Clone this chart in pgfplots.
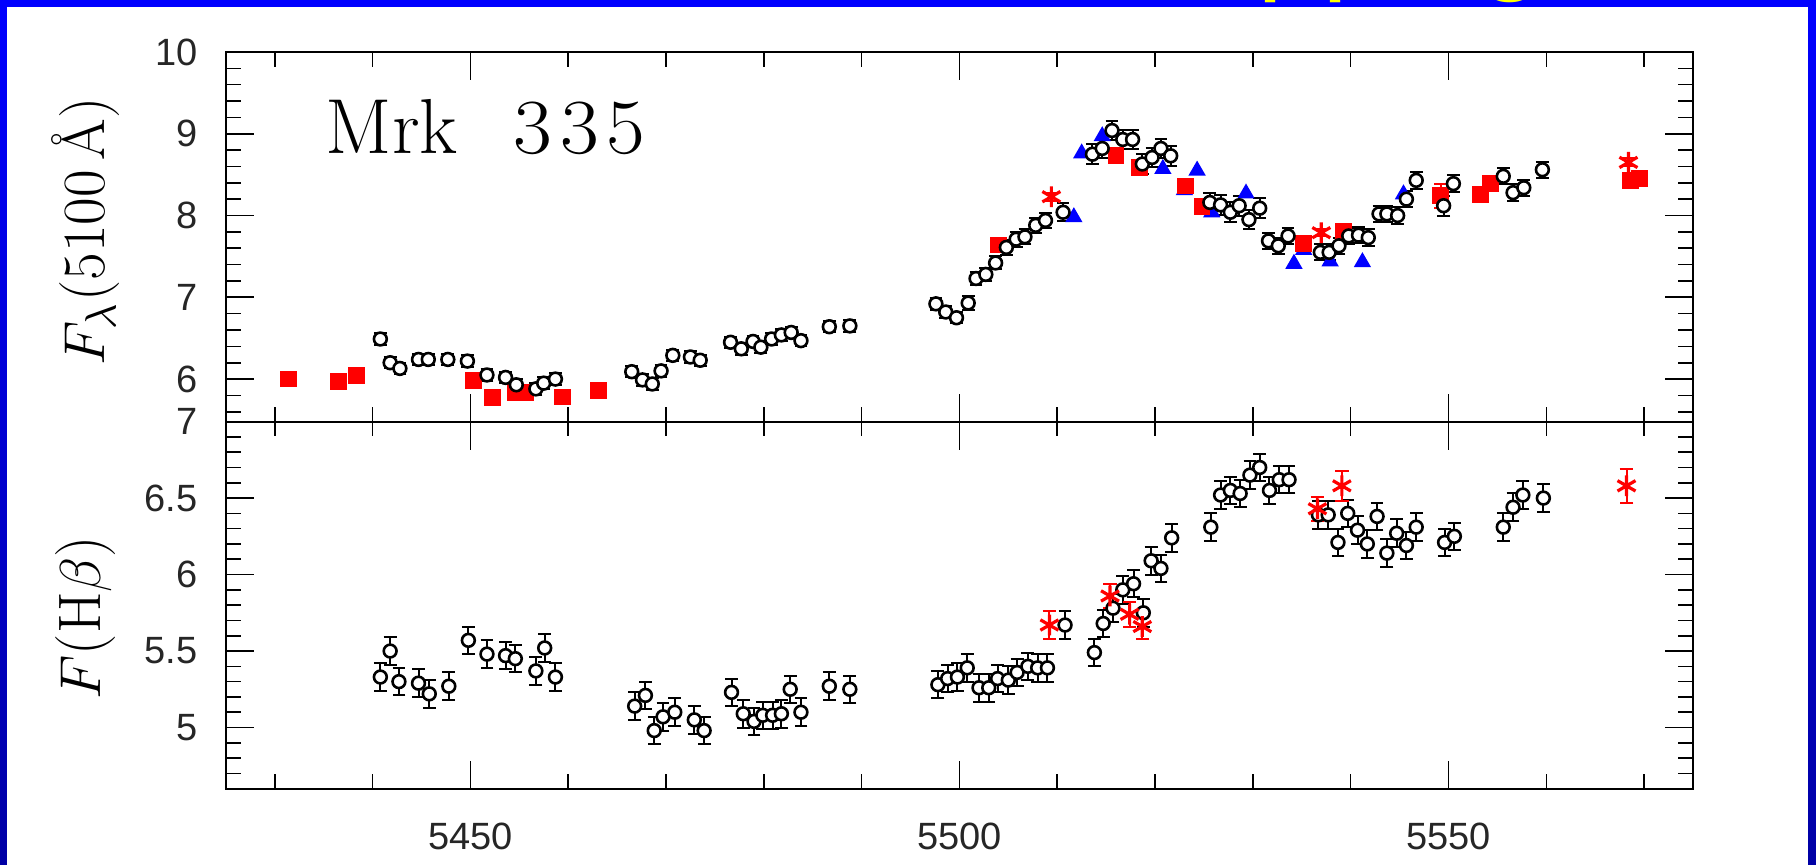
\documentclass[border=0pt]{standalone}
\usepackage{pgfplots}
\pgfplotsset{compat=1.18}
\usepackage{fontspec}
\setsansfont{Liberation Sans}
\newfontfamily\titlefont{Liberation Sans}
\definecolor{slideblue}{RGB}{0,0,255}
\definecolor{slidedark}{RGB}{0,0,165}
\definecolor{ttl}{RGB}{255,255,0}

\pgfplotsset{
  panel/.style={
    scale only axis, width=366.8pt,
    xmin=5425, xmax=5575,
    xtick={5450,5500,5550}, minor xtick={5430,5440,...,5570},
    tick pos=both, tick align=inside,
    major tick length=7pt, minor tick length=3.7pt,
    axis line style={line width=0.5pt},
    every tick/.style={black, line width=0.4pt},
    ticklabel style={font=\sffamily\fontsize{9.5}{11}\selectfont, black!85},
    /pgf/number format/assume math mode=true,
    /pgf/number format/set thousands separator={},
    yticklabel style={xshift=-3.5pt},
    xticklabel style={yshift=-5pt},
    clip=false,
  },
  circ/.style={only marks, mark=*, mark size=1.6pt,
    mark options={draw=black, fill=white, line width=0.65pt},
    error bars/y dir=both, error bars/y explicit,
    error bars/error bar style={line width=0.5pt, black},
    error bars/error mark options={rotate=90, mark size=1.6pt, line width=0.5pt, black}},
  rsq/.style={only marks, mark=square*, mark size=1.9pt, red,
    mark options={draw=red, fill=red},
    error bars/y dir=both, error bars/y explicit,
    error bars/error bar style={line width=0.5pt, red},
    error bars/error mark options={rotate=90, mark size=1.6pt, line width=0.5pt, red}},
  rast/.style={only marks, mark=asterisk, mark size=2.6pt, red,
    mark options={line width=0.8pt},
    error bars/y dir=both, error bars/y explicit,
    error bars/error bar style={line width=0.5pt, red},
    error bars/error mark options={rotate=90, mark size=1.7pt, line width=0.5pt, red}},
  btri/.style={only marks, mark=triangle*, mark size=2.1pt, blue,
    mark options={draw=blue, fill=blue}},
}

\begin{document}
\begin{tikzpicture}
\useasboundingbox (0,0) rectangle (454pt,216.25pt);
\shade[top color=slideblue, bottom color=slidedark] (0,0) rectangle (454pt,216.25pt);
\fill[white] (1.625pt,0) rectangle (452pt,214.6pt);
\begin{scope}
\clip (0,0) rectangle (454pt,216.25pt);
\node[anchor=base west, inner sep=0pt, text=ttl] at (273.6pt,221.7pt)
  {\titlefont\fontsize{29.25}{30}\selectfont Mapping};
\end{scope}

% ---------------- top panel: continuum ----------------
\begin{axis}[panel, at={(56.45pt,110.85pt)}, anchor=south west, height=92.4pt,
  ymin=5.48, ymax=10, ytick={6,7,8,9,10}, minor ytick={5.6,5.8,...,9.81},
  xticklabels={},
  ylabel={\fontsize{15}{18}\selectfont $F_{\lambda}$(5100\,\AA)},
  ylabel style={at={(axis description cs:-0.0953,0.514)}, anchor=center},
]
\addplot+[btri] table[x index=0, y index=1] {
x y
5511.7 7.98
5512.5 8.76
5514.6 8.97
5520.8 8.57
5523.0 8.31
5524.3 8.55
5525.8 8.04
5529.3 8.27
5534.2 7.41
5535.2 7.58
5537.9 7.44
5541.2 7.43
5545.4 8.26
};
\addplot+[rsq] table[x index=0, y index=1, y error index=2] {
x y e
5431.4 6.00 0.04
5436.5 5.97 0.05
5438.4 6.04 0.04
5450.3 5.98 0.04
5452.3 5.77 0.07
5454.6 5.84 0.03
5455.6 5.84 0.03
5459.4 5.78 0.05
5463.1 5.86 0.08
5504.0 7.64 0.06
5516.0 8.73 0.04
5518.4 8.59 0.05
5523.1 8.36 0.08
5524.8 8.11 0.06
5535.2 7.66 0.04
5539.3 7.81 0.05
5549.2 8.24 0.15
5553.3 8.26 0.04
5554.3 8.39 0.04
5568.6 8.43 0.05
5569.5 8.45 0.04
};
\addplot+[circ] table[x index=0, y index=1, y error index=2] {
x y e
5440.8 6.49 0.07
5441.8 6.20 0.07
5442.8 6.13 0.07
5444.7 6.24 0.07
5445.7 6.24 0.07
5447.7 6.24 0.07
5449.7 6.22 0.07
5451.7 6.05 0.07
5453.6 6.02 0.07
5454.7 5.93 0.07
5456.7 5.88 0.07
5457.5 5.95 0.07
5458.7 6.00 0.07
5466.5 6.09 0.07
5467.6 5.99 0.07
5468.6 5.94 0.07
5469.5 6.10 0.07
5470.7 6.29 0.07
5472.5 6.27 0.07
5473.5 6.23 0.07
5476.6 6.45 0.07
5477.7 6.37 0.07
5478.9 6.46 0.07
5479.7 6.39 0.07
5480.8 6.49 0.07
5481.8 6.54 0.07
5482.8 6.57 0.07
5483.8 6.47 0.07
5486.7 6.64 0.07
5488.8 6.65 0.07
5497.6 6.92 0.07
5498.6 6.82 0.07
5499.7 6.75 0.07
5500.9 6.93 0.09
5501.7 7.23 0.08
5502.7 7.28 0.08
5503.7 7.42 0.08
5504.8 7.61 0.09
5505.8 7.71 0.09
5506.7 7.74 0.09
5507.8 7.88 0.09
5508.8 7.94 0.09
5510.6 8.04 0.11
5513.6 8.75 0.12
5514.6 8.82 0.12
5515.6 9.04 0.12
5516.7 8.93 0.12
5517.7 8.93 0.12
5518.7 8.63 0.12
5519.7 8.71 0.12
5520.6 8.82 0.12
5521.6 8.73 0.12
5525.6 8.16 0.12
5526.7 8.13 0.12
5527.7 8.04 0.12
5528.6 8.12 0.12
5529.6 7.95 0.12
5530.7 8.09 0.12
5531.6 7.69 0.10
5532.6 7.63 0.10
5533.6 7.75 0.10
5536.9 7.55 0.10
5537.8 7.55 0.10
5538.8 7.63 0.10
5539.8 7.75 0.10
5540.8 7.76 0.10
5541.8 7.73 0.10
5542.9 8.02 0.10
5543.7 8.02 0.10
5544.8 8.00 0.10
5545.7 8.20 0.10
5546.7 8.43 0.10
5549.5 8.12 0.12
5550.5 8.39 0.10
5555.6 8.48 0.10
5556.6 8.28 0.10
5557.7 8.34 0.10
5559.6 8.56 0.10
};
\addplot+[rast] table[x index=0, y index=1, y error index=2] {
x y e
5509.4 8.23 0.05
5537.0 7.79 0.04
5568.4 8.65 0.05
};
\node[anchor=base west, inner sep=0pt] at (rel axis cs:0.0676,0.724)
  {\fontsize{19.5}{22}\selectfont Mrk\hspace{0.72em}\scalebox{1.08}[1]{3\kern1.8pt3\kern1.8pt5}};
\end{axis}

% ---------------- bottom panel: H beta ----------------
\begin{axis}[panel, at={(56.45pt,19.075pt)}, anchor=south west, height=91.775pt,
  ymin=4.6, ymax=7, ytick={5,5.5,6,6.5,7}, minor ytick={4.7,4.8,...,6.91},
  ylabel={\fontsize{15}{18}\selectfont $F$(H$\beta$)},
  ylabel style={at={(axis description cs:-0.0953,0.466)}, anchor=center},
]
\addplot+[circ] table[x index=0, y index=1, y error index=2] {
x y e
5440.8 5.33 0.09
5441.8 5.50 0.09
5442.7 5.30 0.09
5444.7 5.29 0.09
5445.8 5.22 0.09
5447.8 5.27 0.09
5449.8 5.57 0.09
5451.7 5.48 0.09
5453.6 5.47 0.09
5454.6 5.45 0.09
5456.7 5.37 0.09
5457.6 5.52 0.09
5458.7 5.33 0.09
5466.8 5.14 0.09
5467.9 5.21 0.09
5468.8 4.98 0.09
5469.7 5.07 0.09
5470.9 5.10 0.09
5472.9 5.05 0.09
5473.9 4.98 0.09
5476.7 5.23 0.09
5477.9 5.09 0.09
5479.0 5.04 0.09
5479.9 5.08 0.09
5480.9 5.08 0.09
5481.8 5.09 0.09
5482.7 5.25 0.09
5483.8 5.10 0.09
5486.7 5.27 0.09
5488.8 5.25 0.09
5497.8 5.28 0.09
5498.8 5.32 0.09
5499.8 5.33 0.09
5500.8 5.39 0.09
5502.0 5.26 0.09
5503.0 5.26 0.09
5503.9 5.32 0.09
5505.0 5.31 0.09
5505.9 5.36 0.09
5507.0 5.40 0.09
5508.0 5.39 0.09
5509.0 5.39 0.09
5510.8 5.67 0.09
5513.8 5.49 0.09
5514.7 5.68 0.09
5515.7 5.78 0.09
5516.7 5.90 0.09
5517.8 5.94 0.09
5518.8 5.75 0.09
5519.6 6.09 0.09
5520.6 6.04 0.09
5521.7 6.24 0.09
5525.7 6.31 0.09
5526.7 6.52 0.09
5527.7 6.55 0.09
5528.7 6.53 0.09
5529.7 6.65 0.09
5530.7 6.70 0.09
5531.7 6.55 0.09
5532.7 6.62 0.09
5533.7 6.62 0.09
5536.7 6.39 0.09
5537.7 6.39 0.09
5538.7 6.21 0.09
5539.7 6.40 0.09
5540.7 6.29 0.09
5541.7 6.20 0.09
5542.7 6.38 0.09
5543.7 6.14 0.09
5544.7 6.27 0.09
5545.7 6.19 0.09
5546.7 6.31 0.09
5549.6 6.21 0.09
5550.6 6.25 0.09
5555.6 6.31 0.09
5556.6 6.44 0.09
5557.6 6.52 0.09
5559.7 6.50 0.09
};
\addplot+[rast] table[x index=0, y index=1, y error index=2] {
x y e
5509.2 5.67 0.09
5515.4 5.86 0.08
5517.4 5.74 0.08
5518.7 5.66 0.08
5536.6 6.43 0.08
5539.1 6.58 0.10
5568.2 6.58 0.11
};
\end{axis}
\end{tikzpicture}
\end{document}
